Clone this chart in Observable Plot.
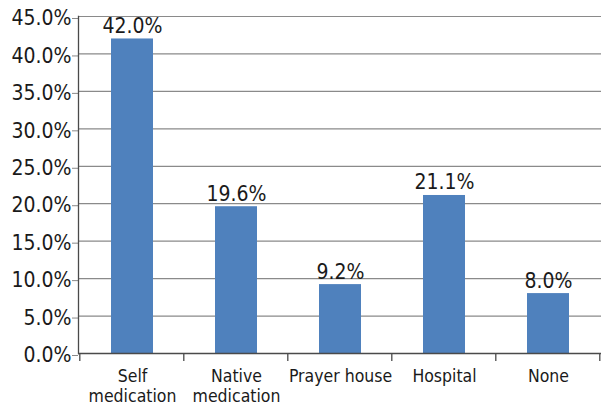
<!DOCTYPE html>
<html>
<head>
<meta charset="utf-8">
<script src="https://cdn.jsdelivr.net/npm/d3@7"></script>
<script src="https://cdn.jsdelivr.net/npm/@observablehq/plot@0.6"></script>
<style>
  html, body { margin: 0; padding: 0; background: #fff; }
</style>
</head>
<body>
<div id="chart"></div>
<script>
const categories = ["Self\nmedication", "Native\nmedication", "Prayer house", "Hospital", "None"];
const values = [42.0, 19.6, 9.2, 21.1, 8.0];
const valueLabels = ["42.0%", "19.6%", "9.2%", "21.1%", "8.0%"];
const yTicks = [0, 5, 10, 15, 20, 25, 30, 35, 40, 45];

const data = categories.map((c, i) => ({category: c, value: values[i], label: valueLabels[i]}));

const FONT = "'DejaVu Sans Condensed', 'DejaVu Sans', sans-serif";
const AXIS = "#4a4a4a";
const GRID = "#8a8a8a";

function categoryTicks(index, scales, values, dimensions) {
  const x = scales.x, y = scales.y;
  const step = x(categories[1]) - x(categories[0]);
  const inner = 0.3 * step;
  const xs = categories.map(c => x(c) - inner);
  xs.push(x(categories[categories.length - 1]) + 0.4 * step + inner);
  const y0 = y(0);
  const g = d3.create("svg:g");
  g.selectAll("line").data(xs).join("line")
    .attr("x1", d => d).attr("x2", d => d)
    .attr("y1", y0).attr("y2", y0 + 8)
    .attr("stroke", AXIS).attr("stroke-width", 1.3);
  return g.node();
}

const chart = Plot.plot({
  width: 609,
  height: 410,
  marginTop: 16,
  marginBottom: 57,
  marginLeft: 78,
  marginRight: 8,
  style: {fontFamily: FONT, fontSize: "21px", color: "#1a1a1a", background: "#fff"},
  x: {domain: categories, paddingInner: 0.6, paddingOuter: 0.3, label: null},
  y: {domain: [0, 45], label: null},
  marks: [
    Plot.gridY(yTicks, {stroke: GRID, strokeOpacity: 1, strokeWidth: 1.2}),
    Plot.axisY(yTicks, {tickSize: 6, tickPadding: 1, stroke: GRID, strokeOpacity: 1, dy: 2,
      tickFormat: d => d.toFixed(1) + "%", fontSize: 21, label: null}),
    Plot.axisX({tickSize: 0, tickPadding: 14, lineAnchor: "top", fontSize: 17.5, lineHeight: 1.15, label: null}),
    Plot.barY(data, {x: "category", y: "value", fill: "#4f81bd"}),
    Plot.frame({anchor: "left", stroke: AXIS, strokeWidth: 1.3}),
    Plot.ruleY([0], {stroke: AXIS, strokeWidth: 1.3}),
    categoryTicks,
    Plot.text(data, {x: "category", y: "value", text: "label", lineAnchor: "bottom", dy: -6, fontSize: 21, fill: "#1a1a1a"})
  ]
});

document.getElementById("chart").appendChild(chart);
</script>
</body>
</html>
